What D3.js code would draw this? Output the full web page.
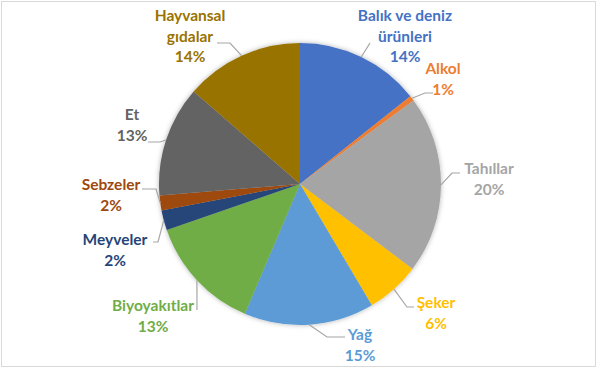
<!DOCTYPE html>
<html>
<head>
<meta charset="utf-8">
<script src="https://cdn.jsdelivr.net/npm/d3@7"></script>
<style>
  body { margin: 0; background: #fff; }
  text { font-family: Lato, "Open Sans", sans-serif; font-weight: bold; font-size: 15.5px; }
</style>
</head>
<body>
<div id="chart"></div>
<script>
var svgWidth = 598;
var svgHeight = 369;

// data (share of total, clockwise from 12 o'clock)
var categories = ["Balık ve deniz ürünleri", "Alkol", "Tahıllar", "Şeker", "Yağ",
  "Biyoyakıtlar", "Meyveler", "Sebzeler", "Et", "Hayvansal gıdalar"];
var values = [14.3, 0.6, 20.4, 6.2, 14.9, 13.3, 2.3, 1.7, 12.7, 13.6];
var colors = ["#4472C4", "#ED7D31", "#A5A5A5", "#FFC000", "#5B9BD5",
  "#70AD47", "#264478", "#9E480E", "#636363", "#997300"];

// label text split in lines as in the picture
var labelLines = [["Balık ve deniz", "ürünleri"], ["Alkol"], ["Tahıllar"], ["Şeker"], ["Yağ"],
  ["Biyoyakıtlar"], ["Meyveler"], ["Sebzeler"], ["Et"], ["Hayvansal", "gıdalar"]];

// label layout: text centre (x, first line y) and leader line points after the slice edge
var labelLayout = [
  { x: 405, y: 16, leader: [[370, 43]] },
  { x: 443, y: 69, leader: [[425, 93], [433, 93]] },
  { x: 489, y: 169, leader: [[452, 173], [460, 173]] },
  { x: 436, y: 303, leader: [[407, 307], [414, 307]] },
  { x: 360, y: 335, leader: [[327, 337], [345, 337]] },
  { x: 153, y: 306, leader: [[197, 310]] },
  { x: 115, y: 240, leader: [[158, 242], [153, 242]] },
  { x: 111, y: 185, leader: [[156, 189], [142, 189]] },
  { x: 132, y: 115, leader: [[160, 142], [148, 142]] },
  { x: 190, y: 16, leader: [[230, 43], [217, 43]] }
];

var cx = 300, cy = 184, radius = 141, lineGap = 20.5;

var svg = d3.select("#chart")
  .append("svg")
  .attr("width", svgWidth)
  .attr("height", svgHeight);

// chart frame
svg.append("rect")
  .attr("x", 1.5)
  .attr("y", 1.5)
  .attr("width", 594)
  .attr("height", 365)
  .attr("fill", "#fff")
  .attr("stroke", "#D9D9D9");

var defs = svg.append("defs");
var shadow = defs.append("filter")
  .attr("id", "shadow")
  .attr("x", "-20%").attr("y", "-20%")
  .attr("width", "140%").attr("height", "140%");
shadow.append("feDropShadow")
  .attr("dx", 0).attr("dy", 0)
  .attr("stdDeviation", 2.5)
  .attr("flood-color", "#000")
  .attr("flood-opacity", 0.3);

var data = categories.map(function(c, i) {
  return { name: c, value: values[i], color: colors[i], lines: labelLines[i], layout: labelLayout[i] };
});

var total = d3.sum(values);

var pie = d3.pie()
  .sort(null)
  .value(d => d.value);

var arc = d3.arc()
  .innerRadius(0)
  .outerRadius(radius);

var edgeArc = d3.arc()
  .innerRadius(radius)
  .outerRadius(radius);

var arcs = pie(data);

var pieGroup = svg.append("g")
  .attr("transform", `translate(${cx}, ${cy})`);

pieGroup.append("g")
  .attr("filter", "url(#shadow)")
  .selectAll("path")
  .data(arcs)
  .enter()
  .append("path")
  .attr("d", arc)
  .attr("fill", d => d.data.color);

// leader lines
var line = d3.line();
svg.append("g")
  .selectAll("path")
  .data(arcs)
  .enter()
  .append("path")
  .attr("d", function(d) {
    var c = edgeArc.centroid(d);
    var pts = [[c[0] + cx, c[1] + cy]].concat(d.data.layout.leader);
    return line(pts);
  })
  .attr("fill", "none")
  .attr("stroke", "#A6A6A6")
  .attr("stroke-width", 1.2);

// labels
var labels = svg.append("g")
  .selectAll("text")
  .data(arcs)
  .enter()
  .append("text")
  .attr("text-anchor", "middle")
  .attr("fill", d => d.data.color);

labels.each(function(d) {
  var t = d3.select(this);
  var rows = d.data.lines.concat([Math.round(d.data.value / total * 100) + "%"]);
  rows.forEach(function(r, i) {
    t.append("tspan")
      .attr("x", d.data.layout.x)
      .attr("y", d.data.layout.y + i * lineGap)
      .attr("dy", "0.35em")
      .text(r);
  });
});
</script>
</body>
</html>
